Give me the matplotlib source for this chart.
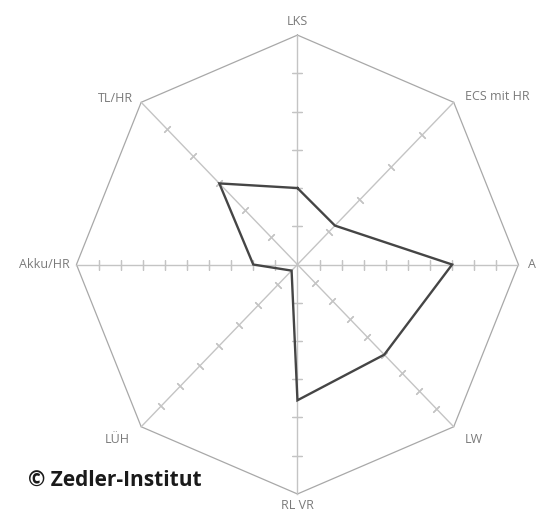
import numpy as np
import matplotlib
matplotlib.use("Agg")
import matplotlib.pyplot as plt

# spokes, clockwise from the top
labels = ["LKS", "ECS mit HR", "A", "LW", "RL VR", "LÜH", "Akku/HR", "TL/HR"]
scale_max = [6, 5, 10, 9, 6, 8, 10, 6]
values = [2, 1.2, 7, 5, 3.55, 0.3, 2, 3]

grey = '#a8a8a8'
spoke_grey = '#c4c4c4'
label_grey = '#7a7a7a'
line_col = '#454545'

# label offsets (points) and alignment per spoke
label_pos = [
    ((0, 10), 'center', 'center'),
    ((8, 4), 'left', 'center'),
    ((7, 0), 'left', 'center'),
    ((8, -9), 'left', 'center'),
    ((0, -8.5), 'center', 'center'),
    ((-8, -9), 'right', 'center'),
    ((-5, 0), 'right', 'center'),
    ((-6, 3), 'right', 'center'),
]

n = len(labels)
theta = np.arange(n) * 2 * np.pi / n  # compass angle, clockwise from north
dx = np.sin(theta)
dy = np.cos(theta)

fig = plt.figure(figsize=(5.37, 5.13), dpi=100, facecolor='white')
ax = fig.add_axes([0, 0, 1, 1])
ax.set_xlim(-1.346, 1.084)
ax.set_ylim(-1.083, 1.153)
ax.axis('off')

# outer octagon
ax.plot(np.append(dx, dx[0]), np.append(dy, dy[0]), color=grey, lw=0.9, zorder=1)

# spokes with ticks
for i in range(n):
    ax.plot([0, dx[i]], [0, dy[i]], color=spoke_grey, lw=1.0, zorder=1)
    k = np.arange(1, scale_max[i]) / scale_max[i]
    ang = 90 - np.degrees(theta[i])
    ax.plot(k * dx[i], k * dy[i], linestyle='none', marker=(2, 2, ang),
            markersize=6.5, markeredgewidth=0.9, color=spoke_grey, zorder=1)
    off, ha, va = label_pos[i]
    ax.annotate(labels[i], (dx[i], dy[i]), xytext=off, textcoords='offset points',
                ha=ha, va=va, fontsize=9, color=label_grey, family='Open Sans')

# data polygon
r = np.array(values) / np.array(scale_max)
px = np.append(r * dx, r[0] * dx[0])
py = np.append(r * dy, r[0] * dy[0])
ax.plot(px, py, color=line_col, lw=1.7, solid_joinstyle='miter', zorder=3)

fig.text(28 / 537, 1 - 480 / 513, "© Zedler-Institut", fontsize=15, fontweight='bold',
         family='Open Sans', color='#1a1a1a', ha='left', va='center')

fig.savefig("out.png", dpi=100, facecolor='white')
